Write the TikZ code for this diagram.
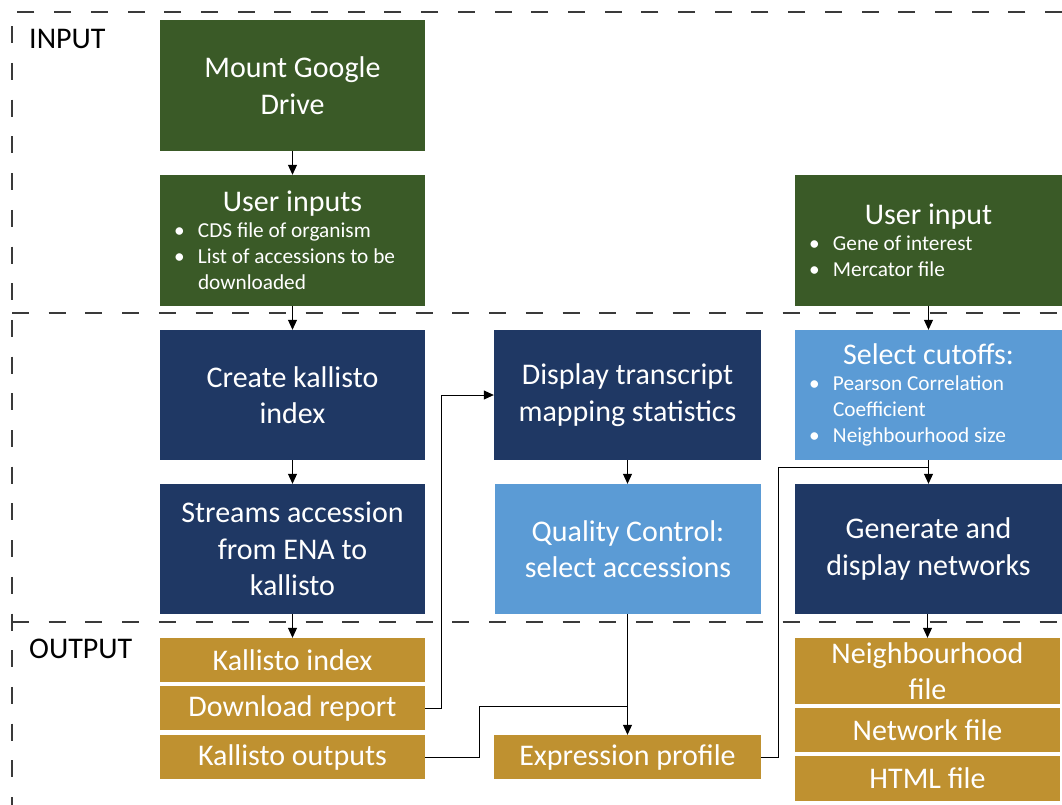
\documentclass[tikz,border=0pt]{standalone}
\usepackage{fontspec}
\setmainfont{Carlito}
\usetikzlibrary{arrows.meta}
\definecolor{dgreen}{HTML}{3A5A27}
\definecolor{navy}{HTML}{1F3864}
\definecolor{lblue}{HTML}{5B9BD5}
\definecolor{gold}{HTML}{BF9130}
\definecolor{dashgray}{HTML}{3A3A3A}
\newcommand\bul{\makebox[24pt][l]{\textbullet}}
\newcommand\bigf{\fontsize{30}{36.6}\selectfont}
\newcommand\smf{\fontsize{21.3}{26}\selectfont}
\newcommand\natsp{\spaceskip=0pt\xspaceskip=0pt\relax}
\begin{document}
\begin{tikzpicture}[x=1pt,y=-1pt,
  box/.style={inner sep=0pt, text=white, align=center, font=\bigf, minimum width=265pt, minimum height=130pt},
  gbox/.style={box, fill=dgreen},
  nbox/.style={box, fill=navy},
  lbox/.style={box, fill=lblue},
  obox/.style={box, fill=gold, minimum height=44pt},
  listbox/.style={text width=265pt, align=left},
  arr/.style={draw=black, line width=0.8pt, -{Triangle[length=10pt,width=9pt]}},
  ln/.style={draw=black, line width=0.8pt},
  dashln/.style={draw=dashgray, line width=1.5pt, dash pattern=on 17pt off 19.7pt},
  lab/.style={inner sep=0pt, anchor=north west, font=\bigf, text=black}
]
\useasboundingbox (0,0) rectangle (1062,805);
% dashed frame
\draw[dashln] (1062,12) -- (12,12) -- (12,805);
\draw[dashln] (12,313) -- (1062,313);
\draw[dashln] (12,622) -- (1062,622);
\node[lab] (inlab) at (29,29) {INPUT};
\node[lab] (outlab) at (29,639) {OUTPUT};

% boxes
\node[gbox, minimum height=131pt] (mount) at (292.5,85.5) {Mount Google\\Drive};
\node[gbox, listbox, minimum height=131pt] (uinp) at (292.5,240.5) {%
  {\centering\natsp\bigf User inputs\par}%
  {\smf\natsp\leftskip=14pt \bul CDS file of organism\par
  \bul List of accessions to be\par
  \hspace*{24pt}downloaded\par}};
\node[gbox, listbox, text width=267pt, minimum width=267pt, minimum height=131pt] (uinr) at (928.5,240.5) {%
  {\centering\natsp\bigf User input\par}%
  {\smf\natsp\leftskip=14pt \bul Gene of interest\par
  \bul Mercator file\par}};
\node[nbox] (cki) at (292.5,395) {Create kallisto\\index};
\node[nbox] (stream) at (292.5,549) {Streams accession\\from ENA to\\kallisto};
\node[nbox, minimum width=267pt] (disp) at (627.5,395) {Display transcript\\mapping statistics};
\node[lbox, minimum width=266pt] (qc) at (628,549) {Quality Control:\\select accessions};
\node[lbox, listbox, text width=267pt, minimum width=267pt] (cut) at (928.5,395) {%
  {\centering\natsp\bigf Select cutoffs:\par}%
  {\smf\natsp\leftskip=14pt \bul Pearson Correlation\par
  \hspace*{24pt}Coefficient\par
  \bul Neighbourhood size\par}};
\node[nbox, minimum width=267pt] (gen) at (928.5,549) {Generate and\\display networks};
\node[obox] (kidx) at (292.5,660) {Kallisto index};
\node[obox] (drep) at (292.5,708) {Download report};
\node[obox] (kout) at (292.5,757) {Kallisto outputs};
\node[obox, minimum width=267pt] (expr) at (627.5,757) {Expression profile};
\node[obox, minimum height=66pt] (nbh) at (927.5,671) {Neighbourhood\\file};
\node[obox] (netf) at (927.5,730) {Network file};
\node[obox, minimum height=45pt] (html) at (927.5,778.5) {HTML file};

% junctions
\coordinate (j1) at (627.5,706);
\coordinate (j2) at (928.5,467);

% connectors
\draw[arr] (mount.south) -- (uinp.north);
\draw[arr] (uinp.south) -- (cki.north);
\draw[arr] (cki.south) -- (stream.north);
\draw[arr] (stream.south) -- (kidx.north);
\draw[arr] (drep.east) -- ++(16,0) |- (disp.west);
\draw[arr] (disp.south) -- (disp.south |- qc.north);
\draw[arr] (qc.south -| expr.north) -- (expr.north);
\draw[ln] (kout.east) -- ++(54,0) |- (j1);
\draw[arr] (uinr.south) -- (cut.north);
\draw[arr] (cut.south) -- (gen.north);
\draw[ln] (expr.east) -- ++(17,0) |- (j2);
\draw[arr] (gen.south -| nbh.north) -- (nbh.north);
\end{tikzpicture}
\end{document}
